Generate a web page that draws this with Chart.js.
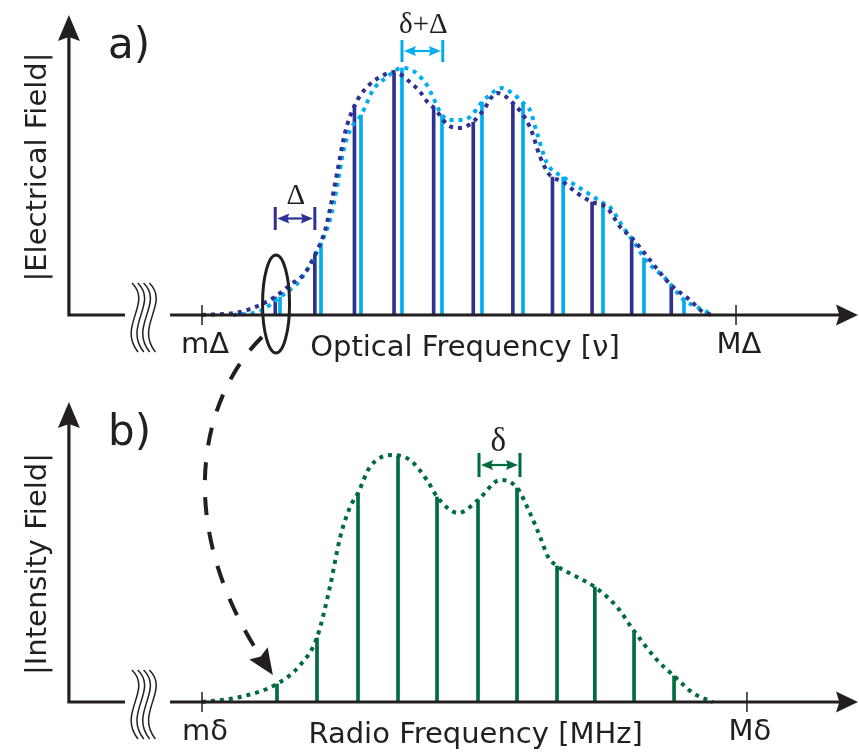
<!DOCTYPE html>
<html>
<head>
<meta charset="utf-8">
<script src="https://cdn.jsdelivr.net/npm/chart.js@4/dist/chart.umd.min.js"></script>
<style>
  html, body { margin: 0; padding: 0; background: #ffffff; }
  canvas { display: block; }
</style>
</head>
<body>
<canvas id="fig" width="859" height="753"></canvas>
<script>
// ---- Panel a: optical comb lines (frequency in units of the line spacing, amplitude in a.u.)
const combAX = [2, 3, 4, 5, 6, 7, 8, 9, 10, 11, 12];
const combAH = [7.2, 24, 84, 96.8, 82.8, 77.2, 84.8, 55.2, 45.2, 30.8, 12];
const combBX = [2.12, 3.155, 4.165, 5.2, 6.21, 7.22, 8.256, 9.27, 10.276, 11.31, 12.32];
const combBH = [7.2, 28.8, 80, 98.8, 80, 85.2, 84.8, 55.2, 44.8, 22.8, 6];

// Spectral envelopes of the two combs
const envAX = [0.15, 1.11, 1.99, 2.37, 2.75, 3.0, 3.26, 3.43, 3.59, 3.76, 4.01, 4.32, 4.65, 5.0, 5.4,
  5.66, 5.86, 6.01, 6.36, 6.59, 6.79, 6.99, 7.22, 7.6, 8.0, 8.43, 8.69, 8.89, 8.99, 9.27, 9.62,
  10.0, 10.38, 10.71, 11.01, 11.46, 11.99, 12.47, 12.8, 13.05];
const envAY = [0, 1.2, 7.2, 12, 16.8, 24, 34, 46, 59.2, 72.8, 84, 91.2, 95.2, 97.2, 93.2,
  89.2, 84.8, 82.8, 76, 74.8, 75.2, 77.2, 81.2, 88.8, 84.8, 75.2, 63.2, 56.8, 55.2, 53.2, 48.8,
  45.2, 42.8, 35.2, 30.8, 22, 12, 6, 1.2, 0];
const envBX = [0.93, 1.62, 2.12, 2.63, 3.16, 3.38, 3.56, 3.71, 3.89, 4.17, 4.47, 4.82, 5.2, 5.45,
  5.61, 5.83, 5.98, 6.21, 6.41, 6.67, 6.92, 7.22, 7.42, 7.68, 7.98, 8.26, 8.43, 8.61, 8.86, 9.27,
  9.77, 10.28, 10.45, 10.78, 11.14, 11.31, 11.89, 12.32, 12.65, 13.05];
const envBY = [0, 1.6, 7.2, 14, 28.8, 38, 51.2, 64.8, 74, 80, 90, 95.2, 98.8, 98,
  96, 92, 87.2, 80, 78, 78, 79.2, 85.2, 88, 90.8, 88.8, 84.8, 82, 72.8, 60.8, 55.2,
  50, 44.8, 43.2, 35.2, 27.2, 22.8, 14, 6, 3.2, 0];

// ---- Panel b: radio-frequency beat notes
const beatX = [2.044, 3.054, 4.09, 5.1, 6.085, 7.12, 8.105, 9.115, 10.07, 11.06, 12.07];
const beatH = [7.2, 25.6, 83.6, 98.4, 82, 80.8, 85.6, 54.4, 46, 28.4, 10.4];
const envRX = [0.15, 1.11, 2.04, 2.63, 3.05, 3.38, 3.64, 3.89, 4.09, 4.39, 4.95, 5.4, 5.83, 6.09,
  6.62, 7.12, 7.68, 8.11, 8.43, 8.69, 8.89, 9.12, 9.62, 10.07, 10.63, 11.06, 11.64, 12.07, 12.55, 13.05];
const envRY = [0, 2, 7.2, 14.8, 25.6, 46, 66, 78, 83.6, 94, 98.8, 96.8, 88.8, 82,
  75.6, 80.8, 88.8, 85.6, 75.6, 66, 58, 54.4, 50, 46, 38, 28.4, 16.8, 10.4, 3.6, 0];

// Axis tick positions and labels
const tickAX = [0.151, 13.635];
const tickALabels = ['m\u0394', 'M\u0394'];
const tickBX = [0.151, 13.91];
const tickBLabels = ['m\u03B4', 'M\u03B4'];

// Spacing markers: [left line, right line]
const spanDelta = [2, 3];
const spanDeltaPlus = [5.2, 6.23];
const spanBeat = [7.145, 8.18];

// ---- styling / layout
const INK = '#231F20';
const NAVY = '#2E3192';
const CYAN = '#00AEEF';
const GREEN = '#006B3F';
const SANS = '"DejaVu Sans", sans-serif';
const SERIF = '"Liberation Serif", "DejaVu Serif", serif';

const AXIS_X = -3.21;          // vertical axis position (frequency units)
const GAP = [-1.794, -0.657];  // axis break
const X_TIP = 16.715;          // horizontal arrow tip
const Y_TIP = 120;             // vertical arrow tip (a.u.)

const pts = (xs, ys) => xs.map((x, i) => ({ x, y: ys[i] }));

function stems(label, xs, hs, color, axis) {
  return {
    type: 'bar', label, data: pts(xs, hs), yAxisID: axis,
    backgroundColor: color, borderWidth: 0, barThickness: 3, grouped: false
  };
}
function envelope(label, xs, ys, color, axis, dash) {
  return {
    type: 'line', label, data: pts(xs, ys), yAxisID: axis,
    borderColor: color, borderWidth: 4, borderDash: dash, borderCapStyle: 'butt',
    pointRadius: 0, fill: false, cubicInterpolationMode: 'monotone'
  };
}

const PANELS = [
  { axis: 'ya', ticks: tickAX, tickLabels: tickALabels, title: 'Optical Frequency [\u03BD]', titleX: 6.79,
    yTitle: '|Electrical Field|', yTitleOff: 148, tag: 'a)' },
  { axis: 'yb', ticks: tickBX, tickLabels: tickBLabels, title: 'Radio Frequency [MHz]', titleX: 7.06,
    yTitle: '|Intensity Field|', yTitleOff: 138, tag: 'b)' }
];

const MARKERS = [
  { axis: 'ya', span: spanDelta, y: [34, 43.2], color: NAVY, text: '\u0394', tx: 2.52, ty: 44.4, size: 29 },
  { axis: 'ya', span: spanDeltaPlus, y: [101.2, 110], color: CYAN, text: '\u03B4+\u0394', tx: 5.74, ty: 112.8, size: 29 },
  { axis: 'yb', span: spanBeat, y: [90, 99.6], color: GREEN, text: '\u03B4', tx: 7.63, ty: 100.4, size: 33 }
];

function arrowHead(ctx, x, y, ang, len, half) {
  ctx.save();
  ctx.translate(x, y); ctx.rotate(ang);
  ctx.beginPath();
  ctx.moveTo(0, 0);
  ctx.lineTo(-len, -half);
  ctx.lineTo(-len * 0.85, 0);
  ctx.lineTo(-len, half);
  ctx.closePath();
  ctx.fill();
  ctx.restore();
}

const decor = {
  id: 'decor',
  afterDatasetsDraw(chart) {
    const ctx = chart.ctx;
    const xs = chart.scales.x;
    const X = v => xs.getPixelForValue(v);

    PANELS.forEach(p => {
      const ys = chart.scales[p.axis];
      const base = ys.getPixelForValue(0);
      const ax = X(AXIS_X);
      const top = ys.getPixelForValue(Y_TIP);
      const gL = X(GAP[0]), gR = X(GAP[1]);
      const tip = X(X_TIP);
      ctx.save();
      ctx.strokeStyle = INK; ctx.fillStyle = INK;
      ctx.lineWidth = 3.2; ctx.lineJoin = 'miter';
      ctx.beginPath();
      ctx.moveTo(ax, top + 18);
      ctx.lineTo(ax, base);
      ctx.lineTo(gL, base);
      ctx.moveTo(gR, base);
      ctx.lineTo(tip - 16, base);
      ctx.stroke();
      arrowHead(ctx, ax, top, -Math.PI / 2, 26, 11);
      arrowHead(ctx, tip, base, 0, 22, 10.5);

      // axis break
      ctx.lineWidth = 1.5;
      for (let k = 0; k < 4; k++) {
        const x0 = gL + 7 + k * 5.8, t = base - 32, h = 69;
        ctx.beginPath();
        ctx.moveTo(x0, t);
        ctx.bezierCurveTo(x0 + 21, t + 0.3 * h, x0 - 15, t + 0.62 * h, x0 + 6, t + h);
        ctx.stroke();
      }

      // ticks and labels
      ctx.lineWidth = 1.5;
      ctx.font = '29px ' + SANS;
      ctx.textAlign = 'center'; ctx.textBaseline = 'alphabetic';
      p.ticks.forEach((v, i) => {
        const tx = X(v);
        ctx.beginPath(); ctx.moveTo(tx, base - 10); ctx.lineTo(tx, base + 10); ctx.stroke();
        ctx.fillText(p.tickLabels[i], tx + 3, base + 38);
      });
      ctx.fillText(p.title, X(p.titleX), base + 41);

      // vertical title
      ctx.save();
      ctx.translate(46, base - p.yTitleOff);
      ctx.rotate(-Math.PI / 2);
      ctx.fillText(p.yTitle, 0, 0);
      ctx.restore();

      // panel tag
      ctx.font = '42px ' + SANS;
      ctx.textAlign = 'left';
      ctx.fillText(p.tag, 108, base - 257);
      ctx.restore();
    });

    // spacing markers
    MARKERS.forEach(m => {
      const ys = chart.scales[m.axis];
      const x1 = X(m.span[0]), x2 = X(m.span[1]);
      const y1 = ys.getPixelForValue(m.y[0]), y2 = ys.getPixelForValue(m.y[1]);
      const ym = (y1 + y2) / 2;
      ctx.save();
      ctx.strokeStyle = m.color; ctx.fillStyle = m.color;
      ctx.lineWidth = 3;
      ctx.beginPath();
      ctx.moveTo(x1, y1); ctx.lineTo(x1, y2);
      ctx.moveTo(x2, y1); ctx.lineTo(x2, y2);
      ctx.stroke();
      ctx.lineWidth = 2.2;
      ctx.beginPath(); ctx.moveTo(x1 + 8, ym); ctx.lineTo(x2 - 8, ym); ctx.stroke();
      arrowHead(ctx, x1 + 2, ym, Math.PI, 12, 5);
      arrowHead(ctx, x2 - 2, ym, 0, 12, 5);
      ctx.fillStyle = INK;
      ctx.font = m.size + 'px ' + SERIF;
      ctx.textAlign = 'center'; ctx.textBaseline = 'alphabetic';
      ctx.fillText(m.text, X(m.tx), ys.getPixelForValue(m.ty));
      ctx.restore();
    });

    // ellipse around the lowest optical line pair
    const ya = chart.scales.ya, yb = chart.scales.yb;
    const ecx = X(2.02), ecy = ya.getPixelForValue(4.4);
    ctx.save();
    ctx.strokeStyle = INK; ctx.lineWidth = 3;
    ctx.beginPath(); ctx.ellipse(ecx, ecy, 13.5, 49, 0, 0, Math.PI * 2); ctx.stroke();

    // dashed arrow from the optical pair to its beat note
    const p0 = [X(1.666), ya.getPixelForValue(-8.8)];
    const c1 = [X(0.174), ya.getPixelForValue(-32)];
    const c2 = [X(-0.657), yb.getPixelForValue(72.8)];
    const p3 = [X(1.94), yb.getPixelForValue(10.8)];
    const ang = Math.atan2(p3[1] - c2[1], p3[0] - c2[0]);
    const stop = [p3[0] - 18 * Math.cos(ang), p3[1] - 18 * Math.sin(ang)];
    ctx.lineWidth = 4;
    ctx.setLineDash([18, 17]);
    ctx.beginPath();
    ctx.moveTo(p0[0], p0[1]);
    ctx.bezierCurveTo(c1[0], c1[1], c2[0], c2[1], stop[0], stop[1]);
    ctx.stroke();
    ctx.setLineDash([]);
    ctx.fillStyle = INK;
    arrowHead(ctx, p3[0], p3[1], ang, 26, 11);
    ctx.restore();
  }
};

new Chart(document.getElementById('fig'), {
  type: 'bar',
  data: {
    datasets: [
      envelope('envelope A', envAX, envAY, NAVY, 'ya', [4, 5]),
      envelope('envelope B', envBX, envBY, CYAN, 'ya', [4, 5]),
      envelope('beat envelope', envRX, envRY, GREEN, 'yb', [4, 5]),
      stems('comb A', combAX, combAH, NAVY, 'ya'),
      stems('comb B', combBX, combBH, CYAN, 'ya'),
      stems('beat notes', beatX, beatH, GREEN, 'yb')
    ]
  },
  options: {
    responsive: false,
    animation: false,
    events: [],
    layout: { padding: 0, autoPadding: false },
    plugins: { legend: { display: false }, tooltip: { enabled: false }, title: { display: false } },
    scales: {
      x: { type: 'linear', min: -4.95, max: 16.74, offset: false, display: false, grid: { offset: false } },
      ya: { type: 'linear', position: 'left', min: -175.2, max: 126, display: false },
      yb: { type: 'linear', position: 'left', min: -20.4, max: 280.8, display: false }
    }
  },
  plugins: [decor]
});
</script>
</body>
</html>
